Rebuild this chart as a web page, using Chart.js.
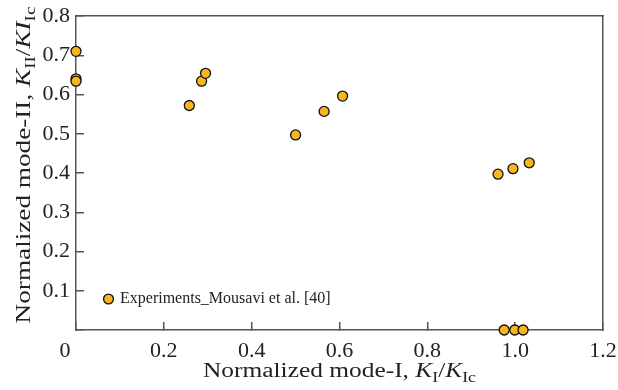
<!DOCTYPE html>
<html>
<head>
<meta charset="utf-8">
<script src="https://cdn.jsdelivr.net/npm/chart.js@4/dist/chart.umd.min.js"></script>
<style>
  html, body { margin: 0; padding: 0; background: #fff; }
  #wrap { width: 618px; height: 390px; position: relative; }
</style>
</head>
<body>
<div id="wrap"><canvas id="c" width="618" height="390"></canvas></div>
<script>
// ---- data ----
const seriesName = 'Experiments_Mousavi et al. [40]';
const modeI  = [0.000, 0.000, 0.000, 0.258, 0.286, 0.295, 0.500, 0.565, 0.607, 0.961, 0.995, 1.032, 0.975, 0.999, 1.018];
const modeII = [0.710, 0.640, 0.634, 0.572, 0.634, 0.654, 0.497, 0.557, 0.596, 0.397, 0.411, 0.426, 0.000, 0.000, 0.000];
const xTicks = [0, 0.2, 0.4, 0.6, 0.8, 1.0, 1.2];
const yTicks = [0.1, 0.2, 0.3, 0.4, 0.5, 0.6, 0.7, 0.8];
// axis titles as rich-text segments: [text, italic, subscript]
const xTitle = [['Normalized mode-I, ', 0, 0], ['K', 1, 0], ['I', 0, 1], ['/', 0, 0], ['K', 1, 0], ['Ic', 0, 1]];
const yTitle = [['Normalized mode-II, ', 0, 0], ['K', 1, 0], ['II', 0, 1], ['/', 0, 0], ['KI', 1, 0], ['Ic', 0, 1]];

const points = modeI.map((x, i) => ({ x: x, y: modeII[i] }));
const FONT = '"Liberation Serif", "Times New Roman", serif';
const AXIS = '#555';
const TEXT = '#222';

function segFont(seg) {
  const size = seg[2] ? 14 : 20;
  return (seg[1] ? 'italic ' : '') + size + 'px ' + FONT;
}
function drawRich(ctx, segs, cx, baseY, stretch) {
  let total = 0;
  segs.forEach(s => { ctx.font = segFont(s); total += ctx.measureText(s[0]).width; });
  ctx.save();
  ctx.translate(cx, baseY);
  ctx.scale(stretch, 1);
  let x = -total / 2;
  ctx.textAlign = 'left';
  ctx.textBaseline = 'alphabetic';
  segs.forEach(s => {
    ctx.font = segFont(s);
    ctx.fillText(s[0], x, s[2] ? 5 : 0);
    x += ctx.measureText(s[0]).width;
  });
  ctx.restore();
}

const titlesPlugin = {
  id: 'richTitles',
  afterLayout(chart) {
    const lg = chart.legend;
    if (lg) {
      const w = lg.width, h = lg.height;
      lg.left = 95; lg.top = 281;
      lg.right = lg.left + w; lg.bottom = lg.top + h;
    }
  },
  afterDraw(chart) {
    const ctx = chart.ctx, a = chart.chartArea;
    ctx.save();
    ctx.fillStyle = TEXT;
    drawRich(ctx, xTitle, (a.left + a.right) / 2, 377, 1.27);
    ctx.translate(30, 165);
    ctx.rotate(-Math.PI / 2);
    drawRich(ctx, yTitle, 0, 0, 1.36);
    ctx.restore();
  }
};

function zeroPad(s) { s.paddingLeft = 0; s.paddingRight = 0; s.paddingTop = 0; s.paddingBottom = 0; }

new Chart(document.getElementById('c'), {
  type: 'scatter',
  data: {
    datasets: [{
      label: seriesName,
      data: points,
      backgroundColor: '#F7B51F',
      borderColor: '#111',
      borderWidth: 1.3,
      pointRadius: 5,
      pointHoverRadius: 5,
      clip: false
    }]
  },
  options: {
    responsive: false,
    animation: false,
    devicePixelRatio: 1,
    layout: { padding: { top: 16, right: 15, left: 0, bottom: 0 } },
    plugins: {
      tooltip: { enabled: false },
      legend: {
        position: 'chartArea',
        align: 'start',
        labels: {
          usePointStyle: true,
          pointStyle: 'circle',
          boxWidth: 7,
          boxHeight: 7,
          padding: 10,
          color: TEXT,
          font: { family: FONT, size: 16 }
        }
      }
    },
    scales: {
      x: {
        type: 'linear',
        position: 'bottom',
        min: 0, max: 1.2,
        afterBuildTicks: s => { s.ticks = xTicks.map(v => ({ value: v })); },
        afterFit: s => { s.height = 60; zeroPad(s); },
        ticks: {
          autoSkip: false,
          maxRotation: 0,
          padding: 16,
          color: TEXT,
          font: { family: FONT, size: 22 },
          callback: v => v === 0 ? '0    ' : Number(v).toFixed(1)
        },
        grid: { drawOnChartArea: false, drawTicks: true, tickLength: -8, color: AXIS, lineWidth: 1.5 },
        border: { color: AXIS, width: 1.5 }
      },
      y: {
        type: 'linear',
        position: 'left',
        min: 0, max: 0.8,
        afterBuildTicks: s => { s.ticks = [{ value: 0 }].concat(yTicks.map(v => ({ value: v }))); },
        afterFit: s => { s.width = 76; zeroPad(s); },
        ticks: {
          autoSkip: false,
          padding: 14,
          color: TEXT,
          font: { family: FONT, size: 22 },
          callback: v => v === 0 ? '' : Number(v).toFixed(1)
        },
        grid: { drawOnChartArea: false, drawTicks: true, tickLength: -8, color: AXIS, lineWidth: 1.5 },
        border: { color: AXIS, width: 1.5 }
      },
      x2: {
        type: 'linear', position: 'top', min: 0, max: 1.2,
        afterFit: s => { s.height = 0; zeroPad(s); },
        ticks: { display: false },
        grid: { display: false, drawTicks: false },
        border: { display: true, color: AXIS, width: 1.5 }
      },
      y2: {
        type: 'linear', position: 'right', min: 0, max: 0.8,
        afterFit: s => { s.width = 0; zeroPad(s); },
        ticks: { display: false },
        grid: { display: false, drawTicks: false },
        border: { display: true, color: AXIS, width: 1.5 }
      }
    }
  },
  plugins: [titlesPlugin]
});
</script>
</body>
</html>
